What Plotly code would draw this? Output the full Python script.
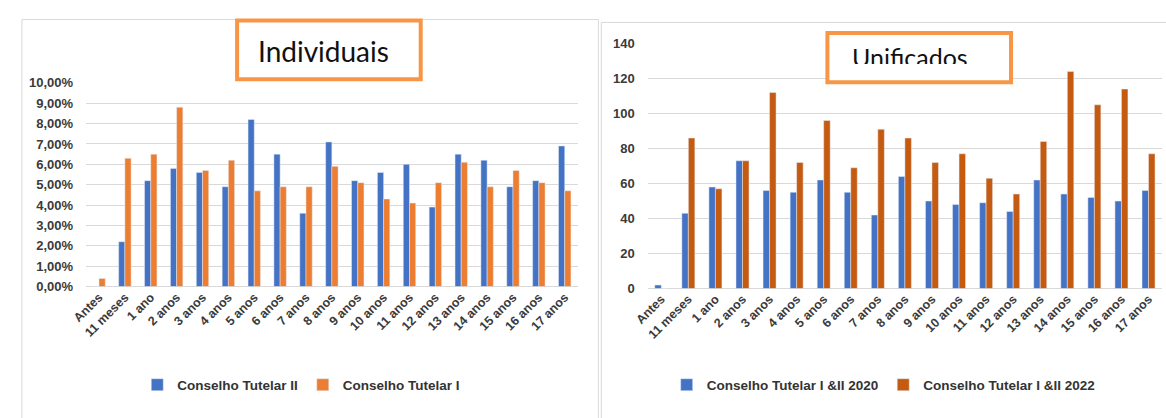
import plotly.graph_objects as go

W, H = 1166, 418

categorias = ["Antes", "11 meses", "1 ano", "2 anos", "3 anos", "4 anos", "5 anos",
              "6 anos", "7 anos", "8 anos", "9 anos", "10 anos", "11 anos", "12 anos",
              "13 anos", "14 anos", "15 anos", "16 anos", "17 anos"]

# Individuais (%)
ct2_pct = [0.0, 2.2, 5.2, 5.8, 5.6, 4.9, 8.2, 6.5, 3.6, 7.1, 5.2, 5.6, 6.0, 3.9,
           6.5, 6.2, 4.9, 5.2, 6.9]
ct1_pct = [0.4, 6.3, 6.5, 8.8, 5.7, 6.2, 4.7, 4.9, 4.9, 5.9, 5.1, 4.3, 4.1, 5.1,
           6.1, 4.9, 5.7, 5.1, 4.7]

# Unificados (contagens)
unif_2020 = [2, 43, 58, 73, 56, 55, 62, 55, 42, 64, 50, 48, 49, 44, 62, 54, 52, 50, 56]
unif_2022 = [0, 86, 57, 73, 112, 72, 96, 69, 91, 86, 72, 77, 63, 54, 84, 124, 105, 114, 77]

left_ticks = list(range(0, 11))
left_ticklabels = ["0,00%", "1,00%", "2,00%", "3,00%", "4,00%", "5,00%", "6,00%",
                   "7,00%", "8,00%", "9,00%", "10,00%"]
right_ticks = list(range(0, 141, 20))

BLUE = "#4472C4"
ORANGE = "#ED7D31"
DARK_ORANGE = "#C55A11"
BOX = "#F79646"
GRID = "#D9D9D9"
SANS = "Liberation Sans, Arial, sans-serif"
XTICK_FONT = dict(family=SANS, size=12.5, color="#3a3a3a", weight="bold")
YTICK_FONT = dict(family=SANS, size=13, color="#3a3a3a", weight="bold")
LEGEND_FONT = dict(family=SANS, size=13.5, color="#333333", weight="bold")
TITLE_FAMILY = "Lato, Carlito, sans-serif"


def fx(x):
    return x / W


def fy(y):
    return 1 - y / H


fig = go.Figure()

fig.add_trace(go.Bar(x=categorias, y=ct2_pct, name="Conselho Tutelar II", marker_color=BLUE,
                     xaxis="x", yaxis="y", legend="legend"))
fig.add_trace(go.Bar(x=categorias, y=ct1_pct, name="Conselho Tutelar I", marker_color=ORANGE,
                     xaxis="x", yaxis="y", legend="legend"))
fig.add_trace(go.Bar(x=categorias, y=unif_2020, name="Conselho Tutelar I &II 2020", marker_color=BLUE,
                     xaxis="x2", yaxis="y2", legend="legend2"))
fig.add_trace(go.Bar(x=categorias, y=unif_2022, name="Conselho Tutelar I &II 2022", marker_color=DARK_ORANGE,
                     xaxis="x2", yaxis="y2", legend="legend2"))

xcommon = dict(type="category", tickangle=-45, tickfont=XTICK_FONT, showgrid=False,
               showline=False, zeroline=False, ticks="", fixedrange=True)
ycommon = dict(showgrid=True, gridcolor=GRID, gridwidth=1, zeroline=True, zerolinecolor=GRID,
               zerolinewidth=1, showline=False, ticks="", tickfont=YTICK_FONT,
               ticklabelstandoff=12)

fig.update_layout(
    width=W, height=H, autosize=False,
    margin=dict(l=0, r=0, t=0, b=0),
    paper_bgcolor="white", plot_bgcolor="white",
    barmode="group", bargap=0.52, bargroupgap=0.0,
    xaxis=dict(domain=[fx(72), fx(570)], anchor="y", **xcommon),
    yaxis=dict(domain=[fy(290), fy(78)], anchor="x", range=[0, 10.03], tickmode="array",
               tickvals=left_ticks, ticktext=left_ticklabels, **ycommon),
    xaxis2=dict(domain=[fx(641), fx(1162)], anchor="y2", **xcommon),
    yaxis2=dict(domain=[fy(292), fy(37)], anchor="x2", range=[0, 140.5], tickmode="array",
                tickvals=right_ticks, **ycommon),
    legend=dict(orientation="h", x=fx(290), y=fy(392), xanchor="center", yanchor="middle",
                font=LEGEND_FONT, itemwidth=30, bgcolor="rgba(0,0,0,0)"),
    legend2=dict(orientation="h", x=fx(880), y=fy(392), xanchor="center", yanchor="middle",
                 font=LEGEND_FONT, itemwidth=30, bgcolor="rgba(0,0,0,0)"),
    shapes=[
        # panel frames
        dict(type="rect", xref="paper", yref="paper", x0=fx(7), y0=fy(13), x1=fx(591), y1=fy(430),
             line=dict(color=GRID, width=1), layer="below"),
        dict(type="rect", xref="paper", yref="paper", x0=fx(594), y0=fy(16), x1=fx(1180), y1=fy(430),
             line=dict(color=GRID, width=1), layer="below"),
        # title boxes
        dict(type="rect", xref="paper", yref="paper", x0=fx(225), y0=fy(14), x1=fx(411), y1=fy(75),
             line=dict(color=BOX, width=4), fillcolor="white", layer="above"),
        dict(type="rect", xref="paper", yref="paper", x0=fx(823), y0=fy(27), x1=fx(1009), y1=fy(78),
             line=dict(color=BOX, width=4), fillcolor="white", layer="above"),
    ],
    annotations=[
        dict(text="Individuais", xref="paper", yref="paper", x=fx(313), y=fy(46),
             xanchor="center", yanchor="middle", showarrow=False,
             font=dict(family=TITLE_FAMILY, size=28, color="#111")),
        # the text box is shorter than the line, so the lower edge of the letters is cut off
        dict(text="Unificados", xref="paper", yref="paper", x=fx(907), y=fy(34),
             xanchor="center", yanchor="top", valign="top", height=22, showarrow=False,
             font=dict(family=TITLE_FAMILY, size=25, color="#111")),
    ],
)

fig.write_html("out.html")
